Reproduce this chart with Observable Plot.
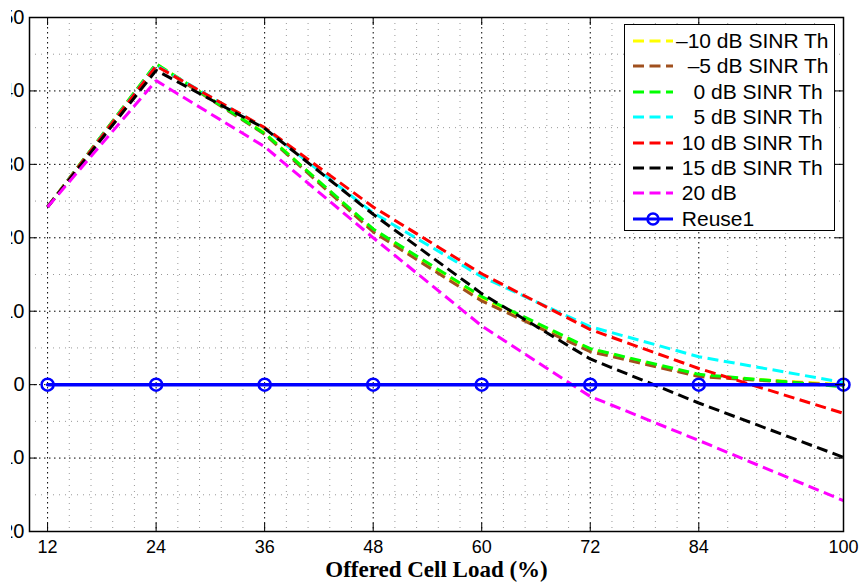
<!DOCTYPE html>
<html>
<head>
<meta charset="utf-8">
<script src="https://cdn.jsdelivr.net/npm/d3@7"></script>
<script src="https://cdn.jsdelivr.net/npm/@observablehq/plot@0.6"></script>
<style>
  html, body { margin: 0; padding: 0; background: #fff; }
  #wrap { position: relative; width: 863px; height: 585px; overflow: hidden; }
  #legend { position: absolute; left: 624px; top: 24px; width: 211px; height: 207px;
            border: 1px solid #000; background: #fff; box-sizing: border-box;
            font: 21px "Liberation Sans", Arial, sans-serif; color: #000; }
  .row { position: absolute; left: 0; height: 26px; width: 100%; }
  .row svg { position: absolute; left: 7px; top: 0; }
  .row span { position: absolute; left: 51px; top: 0; line-height: 26px; white-space: pre; }
</style>
</head>
<body>
<div id="wrap"></div>
<script>
// ---- data ----
const loads = [12, 24, 36, 48, 60, 72, 84, 100];
const sinrM10 = [24.2, 43.7, 34.3, 21.0, 11.7, 4.8, 1.2, 0.0];
const sinrM5  = [24.2, 43.6, 34.1, 20.8, 11.4, 4.5, 1.1, -0.1];
const sinr0   = [24.2, 43.7, 34.2, 21.2, 12.0, 4.9, 1.4, -0.3];
const sinr5   = [24.2, 43.5, 34.9, 23.4, 14.7, 7.9, 3.8, 0.3];
const sinr10  = [24.2, 43.4, 35.0, 24.2, 15.1, 7.5, 2.2, -3.9];
const sinr15  = [24.2, 42.8, 34.9, 23.2, 12.4, 3.5, -2.5, -9.9];
const sinr20  = [24.2, 41.4, 32.4, 20.0, 8.0, -1.6, -7.6, -15.8];
const reuse1  = [0, 0, 0, 0, 0, 0, 0, 0];
const seriesNames = ["–10 dB SINR Th", "  –5 dB SINR Th", "   0 dB SINR Th", "   5 dB SINR Th",
                     " 10 dB SINR Th", " 15 dB SINR Th", " 20 dB", " Reuse1"];
const seriesColors = ["#ffff00", "#a0501e", "#00ff00", "#00ffff", "#ff0000", "#000000", "#ff00ff", "#0000ff"];
const yTicks = [-20, -10, 0, 10, 20, 30, 40, 50];
const xTitle = "Offered Cell Load (%)";

const dashedSeries = [sinrM10, sinrM5, sinr0, sinr5, sinr10, sinr15, sinr20];
const toRows = (vals) => loads.map((x, i) => ({x, y: vals[i]}));

const xMinor = d3.pairs(loads).flatMap(([a, b]) => d3.range(1, 5).map(i => a + (b - a) * i / 5));
const yMinor = d3.pairs(yTicks).map(([a, b]) => (a + b) / 2);

const W = 863, H = 585, mT = 17, mB = 54, mL = 29, mR = 20;
const frameW = W - mL - mR, frameH = H - mT - mB, tickLen = 8;

const chart = Plot.plot({
  width: W, height: H,
  marginTop: mT, marginBottom: mB, marginLeft: mL, marginRight: mR,
  x: {domain: [10, 100]},
  y: {domain: [-20, 50]},
  style: {fontFamily: "'Liberation Sans', Arial, sans-serif", fontSize: "20px", background: "#fff", color: "#000", overflow: "visible"},
  marks: [
    Plot.ruleX(xMinor, {stroke: "#999", strokeDasharray: "1,5", strokeWidth: 1}),
    Plot.ruleY(yMinor, {stroke: "#999", strokeDasharray: "1,5", strokeWidth: 1}),
    Plot.ruleX(loads, {stroke: "#000", strokeDasharray: "1.5,3.5", strokeWidth: 1}),
    Plot.ruleY(yTicks, {stroke: "#000", strokeDasharray: "1.5,3.5", strokeWidth: 1}),
    ...dashedSeries.map((s, i) => Plot.line(toRows(s), {
      x: "x", y: "y", stroke: seriesColors[i], strokeWidth: 3,
      strokeDasharray: "11,5.5", strokeLinecap: "butt", strokeLinejoin: "miter"
    })),
    Plot.line(toRows(reuse1), {x: "x", y: "y", stroke: seriesColors[7], strokeWidth: 3.5}),
    Plot.dot(toRows(reuse1), {x: "x", y: "y", r: 6, stroke: seriesColors[7], strokeWidth: 2.5, fill: "none"}),
    Plot.frame({stroke: "#000", strokeWidth: 1.5}),
    Plot.ruleX(loads, {insetTop: frameH - tickLen, stroke: "#000"}),
    Plot.ruleX(loads, {insetBottom: frameH - tickLen, stroke: "#000"}),
    Plot.ruleY(yTicks, {insetRight: frameW - tickLen, stroke: "#000"}),
    Plot.ruleY(yTicks, {insetLeft: frameW - tickLen, stroke: "#000"}),
    Plot.axisX({ticks: loads, tickSize: 0, tickPadding: 9, label: null, fontSize: 18}),
    Plot.axisY({ticks: yTicks, tickSize: 0, tickPadding: 5, label: null, fontSize: 20}),
    Plot.text([xTitle], {text: d => d, frameAnchor: "bottom", dy: 45,
      fontFamily: "'Liberation Serif', 'Times New Roman', serif", fontWeight: "bold", fontSize: 23, fill: "#000"})
  ]
});

// The reference image is cropped at the left edge: only the last digit of each y label shows.
const ns = "http://www.w3.org/2000/svg";
const yLab = chart.querySelector('g[aria-label="y-axis tick label"]');
if (yLab) {
  const defs = document.createElementNS(ns, "defs");
  const cp = document.createElementNS(ns, "clipPath");
  cp.setAttribute("id", "ycrop");
  const r = document.createElementNS(ns, "rect");
  r.setAttribute("x", 11); r.setAttribute("y", 0);
  r.setAttribute("width", 30); r.setAttribute("height", H);
  cp.appendChild(r); defs.appendChild(cp);
  chart.insertBefore(defs, chart.firstChild);
  const wrapG = document.createElementNS(ns, "g");
  wrapG.setAttribute("clip-path", "url(#ycrop)");
  yLab.parentNode.insertBefore(wrapG, yLab);
  wrapG.appendChild(yLab);
}

const wrap = document.getElementById("wrap");
wrap.appendChild(chart);

// legend
const legend = document.createElement("div");
legend.id = "legend";
seriesNames.forEach((name, i) => {
  const row = document.createElement("div");
  row.className = "row";
  row.style.top = (3 + 25.4 * i) + "px";
  const isReuse = i === seriesNames.length - 1;
  row.innerHTML =
    `<svg width="42" height="26">` +
    `<line x1="1" x2="41" y1="13" y2="13" stroke="${seriesColors[i]}" stroke-width="3" ` +
    (isReuse ? `` : `stroke-dasharray="11,5.5"`) + `/>` +
    (isReuse ? `<circle cx="21" cy="13" r="5.5" fill="none" stroke="${seriesColors[i]}" stroke-width="2.5"/>` : ``) +
    `</svg><span>${name}</span>`;
  legend.appendChild(row);
});
wrap.appendChild(legend);
</script>
</body>
</html>
